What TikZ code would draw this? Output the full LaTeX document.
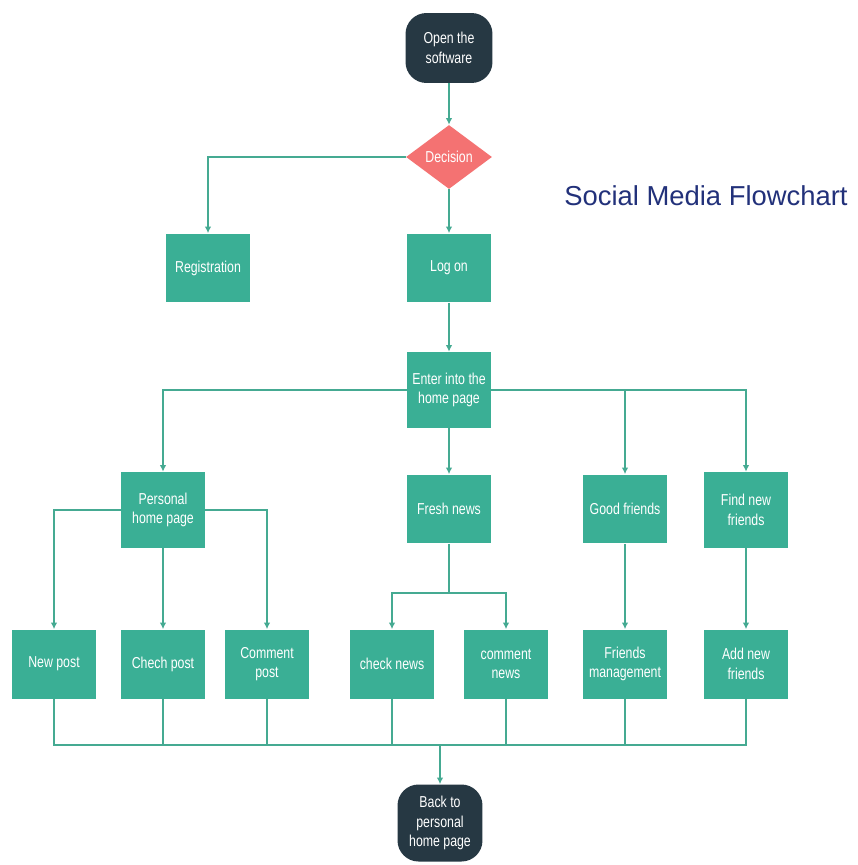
\documentclass[tikz,border=0pt]{standalone}
\usepackage{fontspec}
\setmainfont{Liberation Sans}
\newfontfamily\narrowfont[FakeStretch=0.78]{Liberation Sans}
\usepackage{xcolor}
\usepackage{tikz}
\usetikzlibrary{arrows.meta,positioning,shapes.geometric}
\definecolor{flowteal}{HTML}{3AAF95}
\definecolor{flowline}{HTML}{45AA92}
\definecolor{flowdark}{HTML}{263843}
\definecolor{flowred}{HTML}{F47272}
\definecolor{flowtitle}{HTML}{22317A}
\tikzset{
  box/.style={rectangle,fill=flowteal,text=white,minimum width=1.68cm,minimum height=1.38cm,
    align=center,inner sep=1pt,font=\narrowfont\fontsize{9}{11}\selectfont},
  tallbox/.style={box,minimum height=1.52cm},
  terminal/.style={rectangle,rounded corners=0.42cm,fill=flowdark,text=white,minimum width=1.74cm,
    minimum height=1.4cm,align=center,inner sep=1pt,font=\narrowfont\fontsize{9}{11}\selectfont},
  decision/.style={diamond,fill=flowred,text=white,minimum width=1.72cm,minimum height=1.28cm,
    inner sep=0pt,font=\narrowfont\fontsize{9}{11}\selectfont},
  line/.style={draw=flowline,thick},
  arrow/.style={line,-{Latex[length=1.3mm,width=1.3mm]}}
}
\begin{document}
\begin{tikzpicture}[x=0.02cm,y=-0.02cm]
\useasboundingbox[fill=white] (0,0) rectangle (858,865);
% top part
\node[terminal] (open) at (449,48) {Open the\\software};
\node[decision] (decision) at (449,157) {Decision};
\node[box] (registration) at (208,268) {Registration};
\node[box] (logon) at (449,268) {Log on};
\node[tallbox] (enter) at (449,390) {Enter into the\\home page};
% second row
\node[tallbox] (personal) at (163,510) {Personal\\home page};
\node[box] (fresh) at (449,509) {Fresh news};
\node[box] (good) at (625,509) {Good friends};
\node[tallbox] (find) at (746,510) {Find new\\friends};
% third row
\node[box] (newpost) at (54,664) {New post};
\node[box] (chechpost) at (163,664) {Chech post};
\node[box] (commentpost) at (267,664) {Comment\\post};
\node[box] (checknews) at (392,664) {check news};
\node[box] (commentnews) at (506,664) {comment\\news};
\node[box] (manage) at (625,664) {Friends\\management};
\node[box] (addnew) at (746,664) {Add new\\friends};
\node[terminal,minimum width=1.7cm,minimum height=1.54cm] (back) at (440,823) {Back to\\personal\\home page};
\node[text=flowtitle,font=\fontsize{15.6}{18}\selectfont] (title) at (706,196) {Social Media Flowchart};
\coordinate (fsplit) at (449,593);
\coordinate (merge) at (440,745);
% connectors
\draw[arrow] (open) -- (decision);
\draw[arrow] (decision.west) -| (registration.north);
\draw[arrow] (decision) -- (logon);
\draw[arrow] (logon) -- (enter);
\draw[arrow] (enter.west) -| (personal.north);
\draw[arrow] (enter) -- (fresh);
\draw[arrow] (enter.east) -| (good.north);
\draw[arrow] (enter.east) -| (find.north);
\draw[arrow] (personal.west) -| (newpost.north);
\draw[arrow] (personal) -- (chechpost);
\draw[arrow] (personal.east) -| (commentpost.north);
\draw[line] (fresh) -- (fsplit);
\draw[arrow] (fsplit) -| (checknews.north);
\draw[arrow] (fsplit) -| (commentnews.north);
\draw[arrow] (good) -- (manage);
\draw[arrow] (find) -- (addnew);
\foreach \n in {newpost,chechpost,commentpost,checknews,commentnews,manage,addnew}
  \draw[line] (\n.south) |- (merge);
\draw[arrow] (merge) -- (back);
\end{tikzpicture}
\end{document}
